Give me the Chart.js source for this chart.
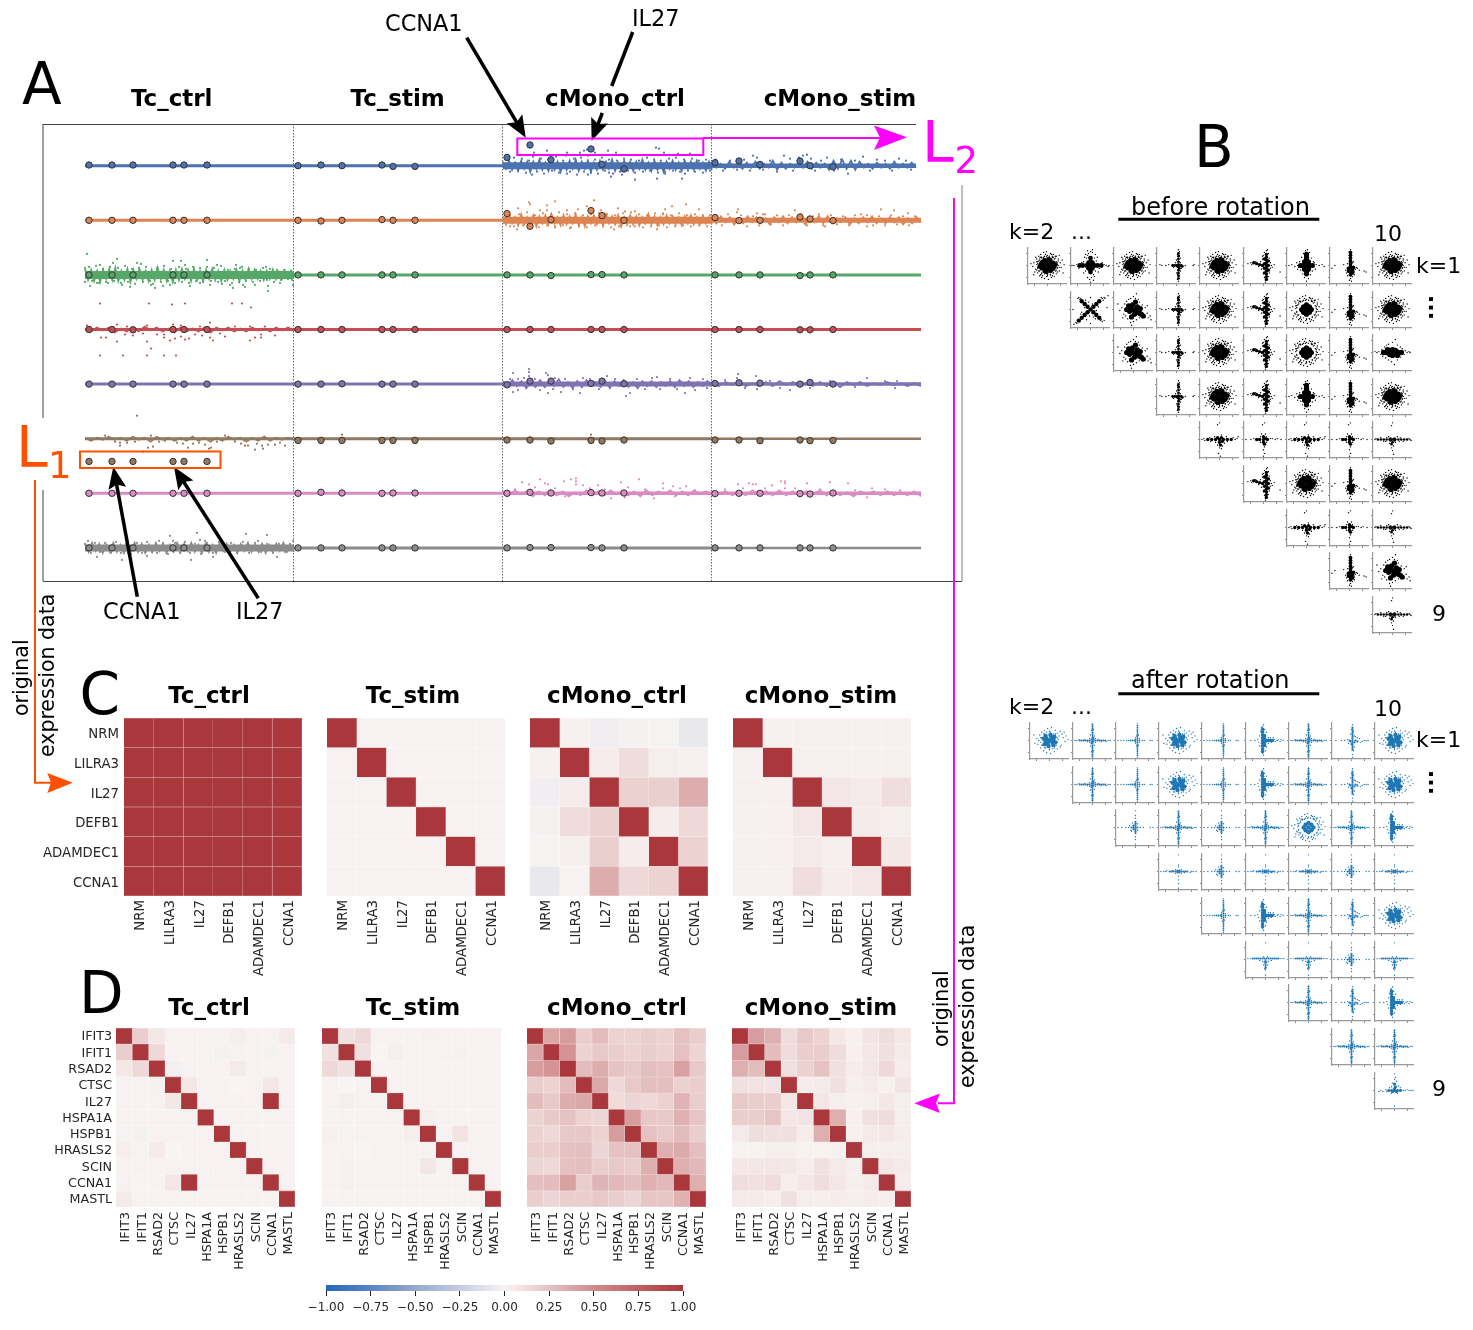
<!DOCTYPE html>
<html>
<head>
<meta charset="utf-8">
<title>Rotation figure</title>
<script src="https://cdn.jsdelivr.net/npm/chart.js@4"></script>
<style>
  body { margin: 0; background: #fff; }
  #page { position: relative; width: 1473px; height: 1330px; overflow: hidden; }
  canvas { position: absolute; }
  svg { position: absolute; left: 0; top: 0; font-family: "DejaVu Sans"; }
</style>
</head>
<body>
<div id="page"></div>
<script>
// ---- panel A data: position along the cells, deviation from the row baseline
const cellGroups = ['Tc_ctrl', 'Tc_stim', 'cMono_ctrl', 'cMono_stim'];
const groupStart = [0, 209, 418, 627];
const groupEnd = [209, 418, 627, 836];
const geneX = [4, 27, 48, 88, 99, 122, 213, 236, 257, 297, 308, 330, 422, 445, 466, 506, 517, 539, 630, 654, 675, 715, 725, 748];

const row0Genes = [-0.7, -0.7, -0.7, -0.7, -0.7, -0.7, 0, -0.7, 0, -0.7, 0.7, 0.7, -8.3, -20.7, -6, -16.7, -1.4, 3.3, -3, -4.7, -1.3, -4.7, 0, 1];
const row1Genes = [0, 0, 0, 0, 0, 0, 0, 0.7, 0, -0.7, 0, 0, -6.7, 6, -0.7, -9.7, -4.7, 0, -2.7, 0.3, 0, -3.3, -1.3, 0.3];
const row2Genes = [0, 0, 0, 0, 0, 0, 0, 0, 0, 0, 0, 0, 0, 0, 0.7, -0.3, -0.3, 0, 0, 0, 0, 0.7, 0, 0];
const row3Genes = [0, 0, 0.3, 0, 0, 0, 0, 0, 0, 0, 0, 0, 0, 0, 0, 0, 0, 0, 0, 0, 0, 0.3, 0.3, 0];
const row4Genes = [0, 0, 0, 0, 0, 0, 0, 0, -0.3, 0, 0, 0, 0.7, -3, -3, -0.7, -3, -0.3, -0.7, -1.3, -1, 0, -1.7, 0];
const row5Genes = [22.7, 22.7, 22.7, 22.7, 22.7, 22.7, 1.7, 1.7, 1.7, 1.7, 1.7, 1.7, 1.3, 1.3, 2.3, 1.7, 2.3, 1.3, 1.3, 1.3, 2, 1.3, 2, 1.7];
const row6Genes = [0, 0, 0, 0, 0, 0, 0, -1, -0.3, 0, -0.3, -0.3, 0, -1, -0.3, -0.7, -0.3, -0.3, 0.3, 0, 0, 0.3, 0.7, -0.3];
const row7Genes = [0, 0, 0, 0, 0, 0, 0, 0, 0, 0, 0, 0, 0, -0.3, -0.3, -0.3, 0, 0, 0, 0, 0, 0, 0, 0];

const row0Cells = [
  [449,-13],[462,-15],[482,-13],[495,-13],[499,-15],[502,-16],[510,-13],[523,-15],[531,-13],[571,-18],[574,-17],[579,-13],[593,-12],[605,-12],
  [447,9],[482,8],[503,9],[524,7],[526,11],[550,14],[572,13],[580,8],[597,13],[600,8],[537,9],
  [421,-6],[425,6],[429,-8],[433,5],[437,-7],[441,7],[444,-5],[448,-9],[452,6],[456,-7],[459,8],[463,-6],[467,5],[471,-9],[474,7],[478,-5],
  [481,-10],[485,6],[489,-7],[492,9],[496,-8],[499,6],[503,-10],[506,7],[510,-6],[513,8],[517,-8],[520,5],[524,-6],[528,8],[532,-5],[535,6],
  [539,-7],[543,5],[546,-6],[550,7],[554,-5],[558,6],[562,-8],[565,5],[569,-6],[573,7],[576,-5],[580,6],[584,-7],[588,5],[591,-8],[595,6],
  [599,-6],[603,5],[607,-7],[610,6],[614,-5],[618,7],[621,-6],[625,5],
  [631,-6],[638,5],[645,-5],[652,4],[659,-6],[665,5],[668,-10],[672,-8],[678,4],[685,-5],[692,6],[699,-10],[705,-7],[708,5],[714,-8],[718,-10],
  [722,-11],[726,-7],[730,5],[736,-5],[742,-8],[749,5],[756,-6],[763,8],[770,-5],[778,-9],[785,5],[792,-6],[800,-5],[807,5],[814,-7],[821,-5],[826,4]
];
const row1Cells = [
  [444,-18],[445,-16],[433,-12],[455,-10],[462,-15],[470,-19],[462,-10],[482,-10],[493,-11],[502,-14],[509,-20],[516,-10],[533,-12],[540,-9],[550,-9],
  [580,-11],[587,-14],[601,-16],[614,-11],[578,-7],[529,9],[572,9],[545,6],[485,8],[445,7],[470,7],[425,6],[432,9],
  [421,-7],[425,-5],[429,6],[434,-6],[438,5],[442,-8],[446,6],[450,-5],[454,7],[458,-7],[462,5],[466,-6],[470,6],[474,-8],[478,5],[482,-6],[486,7],
  [490,-7],[494,6],[498,-5],[502,7],[506,-6],[510,5],[514,-7],[518,6],[522,-6],[526,7],[530,-5],[534,6],[538,-7],[542,5],[546,-8],[550,6],[554,-6],
  [558,7],[562,-5],[566,6],[570,-7],[574,5],[578,-6],[582,7],[586,-5],[590,6],[594,-7],[598,5],[602,-5],[606,6],[610,-6],[614,5],[618,-5],[622,6],[625,-5],
  [653,-11],[672,-7],[678,-6],[710,-10],[796,-11],[809,-10],[823,-7],[782,6],[738,5],[652,-8],
  [631,-5],[637,5],[643,-6],[649,4],[656,-5],[662,6],[668,-4],[674,5],[680,-6],[686,4],[692,-5],[698,5],[704,-5],[716,-6],[722,5],[728,-4],[734,-6],[740,6],
  [746,-5],[752,4],[758,-4],[764,5],[770,-5],[776,-6],[782,-5],[788,5],[794,-4],[800,5],[806,-5],[812,4],[818,-4],[824,5],[830,-4]
];
const row2Cells = [
  [2,-21],[32,-16],[28,-12],[15,-10],[5,11],[52,-12],[88,-14],[96,-14],[122,-15],[132,-10],[151,-10],[155,-7],[181,-8],[183,16],[183,11],[148,13],[158,10],
  [70,13],[66,10],[85,10],[115,8],[37,10],[23,8],[12,8],[208,10],[145,10],[0,-7],[0,7],[4,-8],[7,6],[11,-9],[14,8],[18,-6],[21,7],[25,-8],[29,6],[33,-7],
  [36,8],[40,-9],[43,7],[47,-6],[50,9],[54,-7],[58,7],[61,-8],[65,6],[68,9],[72,-7],[76,7],[79,-9],[83,6],[86,-6],[90,8],[94,-8],[97,7],[101,-6],[104,8],
  [108,-8],[111,6],[115,-7],[118,7],[122,-8],[126,6],[129,-7],[133,7],[136,-9],[140,6],[143,-5],[147,8],[150,-6],[154,7],[157,-8],[161,6],[164,-6],[168,7],
  [171,-5],[175,6],[178,-7],[182,5],[185,-6],[189,7],[192,-5],[196,5],[199,-5],[203,4],[206,-4],[207,5],[105,11],[125,10],[160,12],[45,12],[56,-11],[100,-10],
  [78,11],[137,9],[170,10],[195,8]
];
const row3Cells = [
  [15,-26],[64,-26],[87,-25],[100,-26],[147,-26],[157,-26],[166,-22],[2,-4],[125,-7],[16,8],[21,8],[32,12],[62,12],[66,19],[15,26],[38,26],[62,26],[79,26],[91,26],
  [79,5],[79,8],[85,11],[90,9],[96,7],[100,10],[104,9],[117,6],[125,8],[128,11],[140,7],[170,8],[176,5],[190,6],[40,5],[48,6],[58,4],[72,5],[110,5],[135,4],
  [88,-5],[62,-4],[42,-3],[32,-5],[150,-3],[115,-3],[96,-4],[165,-3],[180,-3],[176,8],[165,11]
];
const row4Cells = [
  [428,-11],[444,-15],[444,-12],[444,-8],[439,-6],[461,-11],[463,-9],[470,-6],[522,-8],[498,-6],[567,-6],[572,-7],[605,-6],[428,8],[433,6],[463,9],[476,8],
  [495,9],[541,12],[545,9],[575,5],[600,9],[610,6],[425,-5],[433,-5],[450,-5],[455,6],[468,5],[480,-5],[488,5],[505,-5],[514,5],[530,-5],[552,-5],[560,5],
  [585,-5],[592,5],[618,-5],[622,4],[653,-10],[652,-6],[671,-8],[672,5],[705,6],[782,-6],[812,-3],[810,4],[640,-4],[660,4],[685,-3],[695,4],[725,4],[745,-3],[770,3],[800,-3]
];
const row5Cells = [
  [35,7],[35,4],[58,13],[63,9],[68,8],[103,9],[124,10],[126,9],[160,7],[170,11],[177,7],[178,10],[183,6],[190,6],[200,7],[163,7],[52,-23],
  [30,3],[42,4],[50,3],[74,3],[92,4],[98,5],[108,5],[114,4],[120,6],[132,3],[150,3],[156,5],[172,5],[195,4],[80,2],[20,-3],[66,-3],[140,-3],[257,-4],[506,-4]
];
const row6Cells = [
  [437,-11],[444,-9],[455,-14],[460,-10],[463,-9],[479,-12],[486,-14],[491,-15],[491,-12],[491,-9],[498,-8],[513,-8],[536,-11],[543,-6],[554,-14],[578,-10],
  [578,-5],[588,-7],[601,-7],[526,5],[569,5],[430,-4],[450,-6],[470,-5],[505,-5],[520,-4],[560,-4],[595,-5],[610,-3],[480,3],[540,4],[590,3],
  [653,-9],[664,-10],[668,-9],[671,-9],[687,-8],[696,-12],[700,-12],[700,-10],[700,-5],[722,-10],[745,-11],[763,-10],[787,-5],[782,4],[640,-4],[658,-5],[680,-5],[710,-5],[735,-4],[770,-3],[800,-4],[815,-3]
];
const row7Cells = [
  [85,-12],[112,-15],[161,-14],[182,-13],[3,-7],[115,-8],[12,9],[37,12],[62,8],[106,12],[128,9],[192,9],[43,5],[88,-7],[74,-7],[120,-7],[173,-7],[208,-7],
  [0,-4],[6,5],[10,-5],[15,4],[20,-5],[26,5],[31,-6],[36,5],[41,-4],[46,6],[52,-5],[57,5],[62,-6],[67,4],[72,5],[78,-5],[83,6],[90,-5],[95,5],[100,-6],[105,5],
  [110,-4],[116,6],[122,-5],[128,5],[134,-6],[140,4],[146,-5],[152,5],[158,-6],[164,5],[170,-5],[176,4],[182,-4],[188,5],[194,-4],[200,4],[205,-4]
];
const rowCells = [row0Cells, row1Cells, row2Cells, row3Cells, row4Cells, row5Cells, row6Cells, row7Cells];
const rowGenes = [row0Genes, row1Genes, row2Genes, row3Genes, row4Genes, row5Genes, row6Genes, row7Genes];

// rough band outlines, read along each noisy stretch
const roughBlueCtrl = [-4,3,-5,4,-3,5,-5,3,-4,6,-4,3,-6,4,-3,5,-5,4,-4,6,-3,4,-5,3,-6,5,-4,3,-5,6,-3,4,-5,4,-4,3,-6,5,-3,4,-5,3,-4,5,-4,3,-6,4,-3,5,-5,4,-3,6,-4,3,-5,4,-3,5,-5,3,-4,4,-5,3,-3,5,-4,4];
const roughBlueStim = [-3,2,-2,3,-4,2,-2,3,-3,2,-4,3,-2,2,-5,4,-3,3,-2,2,-3,2,-4,3,-3,2,-2,4,-5,3,-6,3,-5,4,-4,2,-2,3,-3,2,-2,3,-4,2,-2,2,-3,2];
const roughOrangeCtrl = [-4,4,-5,3,-3,5,-6,4,-3,3,-5,6,-4,3,-5,4,-6,3,-3,5,-5,4,-4,3,-6,5,-3,6,-4,3,-5,4,-3,5,-6,3,-4,4,-5,6,-3,3,-5,4,-4,5,-3,3,-6,4,-4,5,-3,4,-5,3,-4,4,-3,5,-4,3,-5,4,-3,4,-4,3,-3,4];
const roughOrangeStim = [-3,3,-4,2,-3,4,-2,3,-4,2,-3,3,-2,4,-3,2,-4,3,-3,2,-2,4,-3,2,-4,3,-4,3,-2,2,-3,4,-2,3,-3,2,-4,3,-2,3,-3,2,-3,4,-2,3,-3,2];
const roughGreenTc = [-6,5,-5,6,-4,7,-5,4,-6,5,-7,6,-4,5,-6,7,-5,4,-6,5,-4,6,-5,5,-7,4,-5,6,-4,7,-5,5,-6,4,-5,6,-6,5,-4,6,-5,4,-6,5,-4,6,-5,5,-4,4,-5,6,-4,5,-6,4,-5,4,-4,5,-4,4,-5,4,-3,4,-4,3,-4,3];
const roughPurpleCtrl = [-3,3,-4,2,-3,4,-2,3,-4,3,-3,2,-5,3,-2,4,-3,3,-4,2,-2,3,-3,4,-3,2,-4,3,-2,4,-3,2,-3,3,-2,2,-3,3,-4,2,-3,3,-2,2,-3,2];
const roughPurpleStim = [-2,2,-2,1,-3,2,-1,2,-2,2,-3,1,-2,2,-1,2,-2,2,-2,3,-2,1,-2,2,-1,1,-2,1,-1,2,-1,2];
const roughPinkCtrl = [-2,2,-3,1,-2,3,-2,2,-3,2,-2,3,-1,2,-3,2,-2,2,-3,1,-2,2,-2,3,-3,2,-2,1,-3,2,-2,2,-3,1,-2,2];
const roughPinkStim = [-2,1,-2,2,-1,2,-3,1,-2,2,-3,2,-2,3,-2,1,-3,2,-2,2,-1,3,-2,1,-2,2,-2,2,-1,2,-2,3];
const roughGrayTc = [-4,4,-5,3,-4,5,-3,4,-5,4,-3,5,-4,3,-5,4,-4,5,-3,4,-5,3,-4,5,-3,4,-5,4,-4,3,-5,4,-3,5,-4,4,-3,5,-5,3,-4,4,-3,5,-4,3,-5,4,-3,4,-4,5,-3,4,-4,3,-5,4,-3,4];
const roughRedTc = [-1,2,-2,1,-2,3,-1,2,-2,2,-3,1,-2,2,-1,3,-2,2,-1,2,-2,3,-2,1,-2,2,-1,2,-2,1,-1,2,-2,1,-2,1];
const roughBrownTc = [-1,2,-1,1,-2,1,-1,2,-2,1,-1,3,-2,1,-1,2,-1,2,-2,2,-1,3,-1,2,-2,1,-1,3,-1,2,-2,2,-1,1,-1,1];

// row, group, outline
const roughBands = [
  [0, 2, roughBlueCtrl], [0, 3, roughBlueStim], [1, 2, roughOrangeCtrl], [1, 3, roughOrangeStim],
  [2, 0, roughGreenTc], [3, 0, roughRedTc], [4, 2, roughPurpleCtrl], [4, 3, roughPurpleStim],
  [5, 0, roughBrownTc], [6, 2, roughPinkCtrl], [6, 3, roughPinkStim], [7, 0, roughGrayTc]
];

// ---- panels C and D data
const genesC = ['NRM', 'LILRA3', 'IL27', 'DEFB1', 'ADAMDEC1', 'CCNA1'];
const corrC_TcCtrl = [
  [1,1,1,1,1,1],[1,1,1,1,1,1],[1,1,1,1,1,1],[1,1,1,1,1,1],[1,1,1,1,1,1],[1,1,1,1,1,1]
];
const corrC_TcStim = [
  [1,.01,.01,.01,.01,.01],[.01,1,.01,.01,.01,.01],[.01,.01,1,.01,.01,.01],
  [.01,.01,.01,1,.01,.01],[.01,.01,.01,.01,1,.01],[.01,.01,.01,.01,.01,1]
];
const corrC_MonoCtrl = [
  [1,.02,-.04,-.02,-.01,-.08],[.02,1,.04,.12,.03,.02],[-.04,.04,1,.18,.19,.35],
  [-.02,.12,.18,1,.04,.14],[-.01,.03,.19,.04,1,.17],[-.08,.01,.35,.14,.17,1]
];
const corrC_MonoStim = [
  [1,.02,.02,.02,.02,.02],[.02,1,.02,.02,.02,.02],[.02,.02,1,.07,.05,.11],
  [.02,.02,.07,1,.05,.03],[.02,.02,.05,.03,1,.06],[.02,.02,.11,.04,.07,1]
];
const genesD = ['IFIT3', 'IFIT1', 'RSAD2', 'CTSC', 'IL27', 'HSPA1A', 'HSPB1', 'HRASLS2', 'SCIN', 'CCNA1', 'MASTL'];
const corrD_TcCtrl = [
  [1,.2,.06,.01,.01,.015,-.01,.03,.01,.01,.05],
  [.2,1,.14,.01,.01,.01,-.02,-.01,.01,-.02,.01],
  [.06,.14,1,-.03,.01,.01,.01,.05,.01,.01,.01],
  [.01,.01,-.02,1,.06,.01,.01,0,.01,.07,.01],
  [.01,.01,.01,.06,1,.01,.01,.01,.01,1,.01],
  [.015,.01,.01,.01,.01,1,.01,.01,.01,.01,.01],
  [-.01,-.02,.01,.01,.01,.01,1,.01,.01,.01,.01],
  [.03,-.01,.05,0,.01,.01,.01,1,.01,.01,.01],
  [.015,.01,.01,.01,.01,.01,.01,.01,1,.01,.01],
  [.01,.005,.01,.07,1,.01,.01,.01,.01,1,.01],
  [.05,.01,.01,.01,.01,.01,.01,.01,.01,.01,1]
];
const corrD_TcStim = [
  [1,.1,.14,.01,.01,-.01,.02,.01,.01,.01,.01],
  [.1,1,.1,0,.03,.01,-.01,.01,.02,.01,.01],
  [.14,.1,1,.01,.01,.01,.01,-.005,.01,.01,.01],
  [.01,0,.01,1,.01,.01,.01,.01,.01,.01,.01],
  [.01,.03,.01,.01,1,.01,.01,.01,.01,.01,.01],
  [-.01,.01,.01,.01,.01,1,.03,.01,.01,.01,.01],
  [.02,-.01,.01,.01,.01,.03,1,.01,.09,.01,.01],
  [.01,.015,0,.01,.01,.01,.01,1,.01,.01,.01],
  [.01,.02,.01,.01,.01,.01,.07,.01,1,.01,.01],
  [.01,.02,.01,.01,.01,.01,.01,.01,.01,1,.01],
  [.01,.01,.01,.01,.01,.01,.01,.01,.01,.01,1]
];
const corrD_MonoCtrl = [
  [1,.38,.42,.2,.28,.17,.17,.2,.17,.26,.2],
  [.38,1,.46,.17,.22,.2,.17,.2,.17,.26,.16],
  [.42,.46,1,.28,.35,.25,.22,.27,.26,.4,.22],
  [.2,.17,.28,1,.37,.14,.22,.27,.27,.18,.2],
  [.28,.22,.35,.37,1,.13,.16,.14,.18,.32,.2],
  [.17,.22,.25,.17,.15,1,.42,.23,.22,.33,.24],
  [.17,.14,.22,.23,.17,.42,1,.26,.22,.28,.2],
  [.2,.2,.26,.27,.16,.25,.26,1,.34,.36,.27],
  [.16,.14,.26,.27,.2,.22,.2,.34,1,.34,.3],
  [.27,.28,.4,.2,.32,.3,.27,.33,.3,1,.34],
  [.2,.16,.2,.2,.22,.2,.16,.24,.24,.33,1]
];
const corrD_MonoStim = [
  [1,.42,.34,.12,.22,.17,.06,.02,.08,.12,.06],
  [.42,1,.28,.12,.2,.2,.12,.02,.07,.1,.05],
  [.34,.28,1,.1,.18,.25,.1,.04,.07,.14,.04],
  [.1,.09,.08,1,.04,.05,.1,.03,.05,.02,.08],
  [.22,.2,.2,.06,1,.07,.03,.02,.03,.06,.03],
  [.2,.2,.24,.07,.08,1,.34,.02,.1,.12,.03],
  [.05,.11,.1,.1,.04,.34,1,.02,.05,.07,.04],
  [.01,.01,.03,.03,.015,.015,.02,1,.03,.03,.03],
  [.06,.07,.07,.06,.03,.1,.05,.03,1,.07,.05],
  [.11,.1,.13,.03,.07,.11,.07,.03,.05,1,.04],
  [.05,.05,.03,.1,.03,.03,.04,.03,.04,.03,1]
];

// ---- panel B data: point clouds, x right and y up
const blobCore = [[0,0],[-4,0],[4,0],[0,4],[0,-4],[-3,3],[3,3],[-3,-3],[3,-3],[-7,1],[7,-1],[1,7],[-1,-7],[-6,-3],[6,3],[-5,4],[5,-4],[-3,6],[3,-6],[6,-3],[-6,3],[3,6],[-3,-6],[-8,-1],[8,1]];
const blobDots = [[-14,3],[-12,-4],[-11,7],[-10,-8],[-9,10],[-8,-11],[-7,12],[-6,-13],[-4,14],[-3,-14],[-1,15],[1,-15],[3,13],[4,-13],[6,12],[7,-12],[9,10],[9,-9],[11,7],[12,-6],[13,3],[14,-2],[15,6],[-15,-1],[-13,-7],[-12,9],[-8,8],[-9,-6],[8,8],[9,-5],[-10,4],[10,3],[-10,-3],[10,-2],[-6,9],[6,9],[-6,-9],[6,-8],[-3,10],[3,-10],[0,11],[0,-11],[-11,1],[11,0],[-5,-11],[5,10],[12,11],[-14,-10],[16,-8],[-17,2],[17,1],[-10,2],[-9,5],[-8,6],[-6,8],[-4,9],[-1,10],[2,10],[5,9],[7,7],[9,4],[10,1],[10,-3],[8,-6],[6,-8],[3,-10],[0,-10],[-3,-9],[-6,-8],[-8,-6],[-10,-2],[-11,4],[-7,9],[-2,12],[4,12],[8,10],[11,5],[12,-2],[10,-7],[5,-11],[-1,-12],[-7,-10],[-11,-5]];
const roundCore = [[0,0],[-3,3],[3,-3],[3,3],[-3,-3],[-5,0],[5,0],[0,5],[0,-5]];
const wideCore = [[-6,0],[-3,1],[0,0],[3,-1],[6,0],[0,3],[0,-3],[-3,-2],[3,2],[-9,0],[9,0],[-5,3],[5,-3]];
const wideDots = [[-16,0],[-14,1],[-12,-2],[-11,3],[-10,-4],[12,-2],[13,2],[15,0],[17,1],[-8,6],[-6,8],[-4,9],[0,11],[3,14],[5,8],[8,6],[-7,-6],[-4,-8],[-1,-10],[2,-13],[5,-8],[8,-5],[10,4],[-18,1],[18,0]];
const crossCore = [[0,0],[0,4],[0,-4],[0,8],[0,-7],[-4,0],[4,0],[-8,0],[7,0],[2,3],[-2,-3],[2,-3],[-2,3],[-11,0],[11,0]];
const crossDots = [[-17,0],[-14,1],[-13,-1],[14,1],[16,0],[18,-1],[12,3],[-12,-3],[-9,3],[9,-3],[-7,4],[6,5],[-5,-6],[5,-6],[-4,8],[4,8],[-3,11],[3,-10],[-2,13],[2,14],[0,15],[1,-13],[-1,-15],[2,17],[-3,16],[0,-18],[3,-16],[-6,9],[7,9],[-7,-8],[8,-7],[5,12],[-5,12],[-3,-13],[4,-12],[19,0],[-19,0]];
const spikeCore = [[2,-14],[2,-11],[2,-8],[2,-5],[2,-2],[2,1],[2,4],[2,7],[2,10],[2,13],[3,-3],[3,0],[1,-1],[0,0],[-2,0],[-4,0],[5,0],[6,-1]];
const spikeDots = [[-15,0],[-17,1],[-11,0],[-8,1],[9,0],[17,0],[18,1],[2,17],[2,-17],[1,-15],[3,15],[4,8],[0,6],[4,-6],[0,-8],[4,3],[-1,3],[5,-3],[-3,-2],[3,11],[1,12],[3,-11],[1,-10]];
const columnCore = [[3,-15],[3,-12],[3,-9],[3,-6],[3,-3],[3,0],[3,3],[3,6],[3,9],[3,12],[1,-8],[1,-3],[1,2],[1,7],[5,-5],[5,0],[5,5],[-1,0],[-4,1],[-7,2],[-10,3]];
const columnDots = [[-13,3],[-16,2],[-12,1],[-8,4],[-5,-1],[-3,4],[-2,-4],[-1,7],[0,-9],[0,11],[1,14],[2,-16],[3,16],[4,17],[2,-18],[6,8],[7,3],[7,-3],[6,-8],[8,0],[9,-2],[11,1],[17,-7],[5,13],[5,-12],[1,-13],[-1,10]];
const vstarCore = [[0,0],[0,3],[0,-3],[0,6],[0,-6],[0,9],[0,-9],[-3,0],[3,0],[-6,0],[6,0],[-2,4],[2,4],[-2,-4],[2,-4],[0,12]];
const vstarDots = [[-9,0],[-12,-1],[-15,1],[-18,0],[10,1],[13,0],[16,1],[18,-1],[-7,4],[7,4],[-6,-5],[6,-6],[-5,9],[5,8],[-4,-9],[4,-10],[-3,13],[3,14],[-1,16],[1,17],[-2,-13],[2,-14],[0,-17],[-9,-4],[9,-4],[-8,-2],[8,3],[-10,3]];
const dropCore = [[1,-10],[1,-7],[2,-4],[1,-1],[1,2],[1,5],[1,8],[1,11],[3,-8],[3,-5],[-1,-6],[-1,-3],[4,-2],[1,14]];
const dropDots = [[1,17],[0,15],[2,13],[2,9],[0,8],[-2,2],[3,3],[4,4],[-3,-8],[-4,-5],[5,-7],[6,-4],[7,-2],[8,-3],[10,-5],[5,-10],[-2,-11],[3,-12],[1,-14],[0,-16],[2,-17],[-15,0],[-18,-3],[15,-6],[17,-7],[-6,1]];
const xCore = [[0,0],[-3,-3],[3,3],[-6,-6],[6,6],[-9,-9],[9,9],[-3,3],[3,-3],[-6,6],[6,-6],[-9,9],[9,-9],[-12,-12]];
const xDots = [[-15,-14],[-14,-15],[-13,-11],[-11,-13],[-17,-16],[12,12],[14,13],[15,12],[18,15],[13,10],[11,13],[-11,11],[-12,13],[-10,12],[-13,12],[11,-11],[12,-13],[10,-12],[14,-12],[-6,2],[6,-1],[2,6],[-1,-7],[-2,8],[3,-8],[-9,-3],[8,3],[-5,10],[5,-10],[-10,-5],[-4,-11],[0,13],[0,-15],[17,2],[-18,0]];
const starCore = [[0,0],[-3,2],[3,-2],[-5,4],[-4,-2],[4,3],[1,-5],[-1,5],[6,-4],[8,-5],[-7,0],[7,1],[10,-7],[2,8],[-2,-8]];
const starDots = [[-12,2],[-14,-1],[-10,-5],[-9,6],[-7,9],[-3,12],[0,14],[3,17],[2,12],[6,8],[9,5],[12,2],[14,-4],[12,-8],[15,-9],[17,-7],[18,-11],[9,-9],[6,-9],[3,-11],[0,-13],[-3,-14],[-2,-17],[-6,-10],[-8,-7],[-11,-9],[5,11],[-5,11],[14,4],[-16,6]];
const horizCore = [[-12,0],[-8,0],[-4,0],[0,0],[4,0],[8,0],[12,0],[0,-3],[-2,2],[2,2],[3,-2],[1,-6]];
const horizDots = [[-18,0],[-16,1],[-15,-1],[16,0],[18,1],[19,3],[14,2],[-10,2],[-9,-2],[7,3],[8,-2],[-5,3],[-4,-3],[5,-4],[0,-9],[2,-10],[-1,-15],[1,-18],[-2,16],[0,18],[3,-7],[-2,-6],[2,5]];
const smallCore = [[0,0],[0,3],[0,-3],[-4,0],[-7,0],[2,1],[1,-5],[4,0]];
const smallDots = [[-13,0],[-18,0],[18,0],[14,1],[12,0],[9,1],[7,1],[-10,1],[1,-8],[0,-11],[1,-15],[0,-18],[-1,16],[1,18],[-3,3],[3,3],[-3,-3],[3,-3],[2,6],[-2,6]];
const thinCore = [[-15,0],[-12,0],[-9,0],[-6,0],[-3,0],[0,0],[3,0],[6,0],[9,0],[12,0],[15,0],[-2,1],[2,1],[-2,-1],[2,-1],[0,-3],[-1,-5]];
const thinDots = [[-18,0],[-17,1],[18,0],[19,-1],[17,1],[-12,2],[-9,-2],[-6,2],[-4,3],[5,3],[8,2],[11,-2],[-3,-4],[1,-7],[-1,-9],[0,-12],[1,-16],[-1,15],[0,18],[3,-3],[-7,-2],[7,-2]];

const bBlobCore = [[0,0],[-3,2],[3,-2],[2,3],[-2,-3],[-4,-1],[4,1],[-6,2],[6,-2],[1,6],[-1,-6],[-5,-4],[5,4],[-4,5],[4,-5]];
const bBlobDots = [[-13,2],[-12,-4],[-10,6],[-9,-8],[-8,9],[-6,-11],[-5,11],[-3,-13],[-2,13],[1,-14],[2,14],[5,-12],[6,11],[8,-9],[8,8],[10,5],[12,-5],[13,7],[15,9],[14,3],[17,5],[16,-1],[19,1],[-11,0],[-8,3],[-7,-5],[7,-5],[9,1],[-5,7],[4,7],[-4,-8],[3,-9],[0,10],[0,-10],[11,10],[11,-7],[-15,-3],[-16,6],[-9,-2],[-8,-5],[-6,7],[-3,9],[1,9],[6,7],[8,3],[8,-2],[5,-8],[0,-9],[-5,-8],[-9,3]];
const plusCore = [[0,-17],[0,-15],[0,-13],[0,-11],[0,-9],[0,-7],[0,-5],[0,-3],[0,-1],[0,1],[0,3],[0,5],[0,7],[0,9],[0,11],[0,13],[0,15],[0,17],[-13,0],[-11,0],[-9,0],[-7,0],[-5,0],[-3,0],[3,0],[5,0],[7,0],[9,0],[11,0],[13,0],[-1,1],[1,-1],[1,1],[-1,-1],[1,3],[-1,-3]];
const plusDots = [[-18,0],[-16,0],[-14,1],[14,-1],[16,0],[18,0],[-8,1],[-5,-1],[6,1],[9,-1],[-2,6],[2,5],[-2,-6],[2,-5],[1,12],[-1,11],[1,-11],[-1,-12],[0,18],[0,-18],[3,2],[-3,2],[3,-2],[-3,-2]];
const slimCore = [[2,-16],[2,-14],[2,-12],[2,-10],[2,-8],[2,-6],[2,-4],[2,-2],[2,0],[2,2],[2,4],[2,6],[2,8],[2,10],[2,12],[2,14],[2,16],[-1,0],[-3,0],[-5,0],[0,-1],[0,1],[4,0]];
const slimDots = [[-9,0],[-12,0],[-15,0],[-18,0],[7,0],[9,0],[15,0],[17,0],[2,18],[2,-18],[1,5],[3,6],[1,-6],[3,-5],[0,3],[4,2],[0,-3],[4,-2],[-7,0]];
const fanCore = [[-3,0],[-3,-3],[-3,3],[-3,6],[-3,-6],[-3,9],[-3,-9],[-1,2],[-1,-2],[1,0],[3,0],[5,0],[7,0],[-3,12],[-3,-12],[-1,5],[-1,-5]];
const fanDots = [[-3,15],[-2,17],[-4,14],[-3,-14],[-2,-16],[-6,5],[-7,-2],[-6,-6],[-8,1],[-11,0],[-15,0],[0,6],[1,9],[0,-6],[1,-7],[3,3],[5,3],[3,-3],[6,-2],[9,1],[10,-1],[12,0],[13,1],[15,-1],[16,1],[18,0],[8,3],[-1,12],[-5,10],[0,-11]];
const tailCore = [[1,-10],[1,-8],[1,-6],[1,-4],[1,-2],[1,0],[1,2],[1,4],[1,6],[1,8],[1,10],[1,12],[1,14],[3,-2],[4,0],[-1,-1],[-2,0],[6,-1],[0,-4]];
const tailDots = [[1,17],[1,-15],[1,-18],[0,12],[2,10],[3,5],[4,4],[6,3],[8,2],[9,-2],[11,-1],[13,0],[15,0],[17,0],[-4,1],[-7,0],[-10,0],[-16,0],[-3,-3],[3,-7],[-1,7],[2,-11]];
const littleCore = [[0,0],[0,2],[0,-2],[0,4],[0,-4],[0,6],[0,-6],[-2,0],[2,0],[-2,2],[-2,-2],[-4,0]];
const littleDots = [[0,10],[0,13],[0,18],[0,-10],[0,-13],[0,-18],[-7,0],[-10,0],[-14,0],[-18,0],[5,0],[8,0],[15,0],[18,0],[-3,5],[-4,-4],[2,4],[2,-3],[-6,2],[-5,-3]];
const flatCore = [[-9,0],[-7,0],[-5,0],[-3,0],[-1,0],[1,0],[3,0],[5,0],[7,0],[9,0],[-1,1],[1,-1],[-1,-1],[1,1]];
const flatDots = [[-18,0],[-15,0],[-13,0],[-12,1],[13,0],[15,0],[12,-1],[18,0],[0,18],[0,-18],[0,-13],[0,-9],[0,7],[-3,2],[3,2],[-3,-2],[3,-2],[-6,1],[6,-1],[0,5],[0,-5]];
const hangCore = [[-13,1],[-11,1],[-9,1],[-7,1],[-5,1],[-3,1],[-1,1],[1,1],[3,1],[5,1],[7,1],[9,1],[11,1],[13,1],[0,-1],[0,-3],[0,-5],[0,-7],[0,-9],[-1,-3],[1,-3]];
const hangDots = [[-18,1],[-15,1],[15,1],[17,1],[19,1],[0,-11],[0,-17],[1,-9],[-1,-10],[0,18],[-2,-6],[2,-6],[-3,-2],[3,-2],[-6,-1],[6,-1],[-2,3],[2,3]];
const humpCore = [[-6,0],[-3,0],[0,0],[3,0],[6,0],[0,2],[1,4],[0,7],[-2,-1],[2,-1]];
const humpDots = [[-12,-1],[-14,0],[-16,-1],[9,0],[11,0],[13,1],[15,0],[17,0],[19,0],[-2,8],[2,10],[0,12],[1,14],[0,18],[-3,4],[4,5],[-5,3],[6,3],[7,1],[-9,1],[-8,-1],[-3,-3],[3,-3],[0,-17]];

const beforeGrid = ['bcbsblvdb', 'xtsblrdb', 'tsblrdw', 'sblvdb', 'hmhmH', 'lbdb', 'hmH', 'dt', 'H'];
const afterGrid = ['BpsBsfpdB', 'psBsfpdB', 'mpmpRpf', 'nmnnmn', 'sfpdB', 'TTmT', 'pdf', 'pp', 'a'];

// ---- layout and style
const ROW_STEP = 54.6;
const rowColors = ['#4c72b0', '#dd8452', '#55a868', '#c44e52', '#8172b3', '#937860', '#da8bc3', '#8c8c8c'];
const bandWidths = [
  [3, 3, 7, 4.5], [3, 3, 7, 5], [8, 3, 3, 3], [3, 3, 3, 3],
  [3, 3, 5, 3.5], [3, 3, 3, 2.5], [3, 3, 3.5, 3.5], [7, 3, 3, 2.5]
];
const corrStops = [
  [-1, 35, 105, 189], [-0.75, 92, 132, 196], [-0.5, 150, 169, 204], [-0.25, 197, 205, 224], [0, 248, 244, 243],
  [0.25, 230, 195, 195], [0.5, 208, 139, 140], [0.75, 191, 96, 98], [1, 169, 55, 59]
];
const beforeStyle = {
  b: [blobCore, blobDots, 2.3], c: [crossCore, crossDots, 2.4], s: [spikeCore, spikeDots, 1.4],
  l: [columnCore, columnDots, 1.7], v: [vstarCore, vstarDots, 2.6], d: [dropCore, dropDots, 1.9],
  x: [xCore, xDots, 2.2], t: [starCore, starDots, 2.6], r: [roundCore, blobDots, 2.6], w: [wideCore, wideDots, 2.8],
  h: [horizCore, horizDots, 1.7], m: [smallCore, smallDots, 1.7], H: [thinCore, thinDots, 1.3]
};
const afterStyle = {
  B: [bBlobCore, bBlobDots, 2.2], R: [roundCore, blobDots, 2.2], p: [plusCore, plusDots, 1],
  s: [slimCore, slimDots, 0.9], f: [fanCore, fanDots, 1.8], d: [tailCore, tailDots, 1.1],
  m: [littleCore, littleDots, 1.1], n: [flatCore, flatDots, 1.1], T: [hangCore, hangDots, 1],
  a: [humpCore, humpDots, 1.6]
};

Chart.defaults.font.family = '"DejaVu Sans"';
const page = document.getElementById('page');

function addCanvas(x, y, w, h) {
  const c = document.createElement('canvas');
  c.width = w;
  c.height = h;
  c.style.left = x + 'px';
  c.style.top = y + 'px';
  page.appendChild(c);
  return c.getContext('2d');
}

function corrColor(v, lighten) {
  let i = 0;
  while (i < corrStops.length - 2 && v > corrStops[i + 1][0]) i++;
  const a = corrStops[i], b = corrStops[i + 1];
  const t = (v - a[0]) / (b[0] - a[0]);
  const mix = k => {
    const c = a[k] + (b[k] - a[k]) * t;
    return Math.round(c + (255 - c) * (lighten || 0));
  };
  return 'rgb(' + mix(1) + ',' + mix(2) + ',' + mix(3) + ')';
}

const quiet = { legend: { display: false }, tooltip: { enabled: false } };

// panel A
function drawTracks() {
  const datasets = [];
  rowColors.forEach((color, r) => {
    const base = r * ROW_STEP;
    datasets.push({
      data: geneX.map((x, i) => ({ x: x, y: base + rowGenes[r][i] })),
      backgroundColor: color, borderColor: '#333', borderWidth: 1, pointRadius: 3.2, order: 0
    });
    datasets.push({
      data: rowCells[r].map(p => ({ x: p[0], y: base + p[1] })),
      backgroundColor: color, borderWidth: 0, pointRadius: 1.1, order: 1
    });
    cellGroups.forEach((g, k) => {
      const end = r === 0 && k === 3 ? 831 : groupEnd[k];
      datasets.push({
        data: [{ x: groupStart[k], y: base }, { x: end, y: base }],
        showLine: true, borderColor: color, borderWidth: bandWidths[r][k], pointRadius: 0, order: 2
      });
    });
  });
  roughBands.forEach(b => {
    const r = b[0], k = b[1], devs = b[2];
    const end = r === 0 && k === 3 ? 831 : groupEnd[k];
    const step = (end - groupStart[k]) / (devs.length - 1);
    datasets.push({
      data: devs.map((d, i) => ({ x: groupStart[k] + i * step, y: r * ROW_STEP + d })),
      showLine: true, tension: 0, borderColor: rowColors[r], borderWidth: 1.8, pointRadius: 0, order: 2
    });
  });
  [208.5, 417.5, 626.5].forEach(x => {
    datasets.push({
      data: [{ x: x, y: -41.7 }, { x: x, y: 415.3 }],
      showLine: true, borderColor: '#555', borderWidth: 0.9, borderDash: [1.5, 1.5], pointRadius: 0, order: 3
    });
  });
  new Chart(addCanvas(43, 124, 919, 457), {
    type: 'scatter',
    data: { datasets },
    options: {
      responsive: false,
      animation: false,
      plugins: quiet,
      layout: { autoPadding: false },
      scales: {
        x: { display: false, type: 'linear', min: -42, max: 877 },
        y: { display: false, type: 'linear', min: -41.7, max: 415.3, reverse: true }
      }
    }
  });
}

// panels C and D
function heatmap(matrix, genes, x, y, size, showY, fontSize, yPad, xPad, yShift) {
  const n = genes.length;
  const left = showY ? 100 : 0;
  const bottom = 90;
  const font = { size: fontSize };
  const datasets = genes.map((g, j) => ({
    label: g,
    data: genes.map(() => 1),
    backgroundColor: matrix.map(row => corrColor(row[j])),
    borderColor: matrix.map(row => corrColor(row[j], 0.2)),
    borderWidth: 0.6,
    inflateAmount: 0.2
  }));
  new Chart(addCanvas(x - left, y, size + left, size + bottom), {
    type: 'bar',
    data: { labels: genes, datasets },
    options: {
      indexAxis: 'y',
      responsive: false,
      animation: false,
      plugins: quiet,
      layout: { autoPadding: false },
      datasets: { bar: { barPercentage: 1, categoryPercentage: 1 } },
      scales: {
        x: {
          type: 'linear', stacked: true, min: 0, max: n,
          grid: { display: false, drawTicks: false }, border: { display: false },
          afterBuildTicks: s => { s.ticks = genes.map((g, i) => ({ value: i + 0.5 })); },
          ticks: { autoSkip: false, minRotation: 90, maxRotation: 90, padding: xPad, labelOffset: 2, font, color: '#262626', callback: (v, i) => genes[i] },
          afterFit: s => { s.height = bottom; s.paddingLeft = 0; s.paddingRight = 0; }
        },
        y: {
          stacked: true,
          grid: { display: false, drawTicks: false }, border: { display: false },
          ticks: { display: showY, autoSkip: false, padding: yPad, labelOffset: yShift, font, color: '#262626' },
          afterFit: s => { s.width = left; s.paddingTop = 0; s.paddingBottom = 0; }
        }
      }
    }
  });
}

function colorbar() {
  new Chart(addCanvas(296, 1285, 417, 38), {
    type: 'bar',
    data: {
      labels: ['r'],
      datasets: [{
        data: [[-1, 1]],
        barPercentage: 1,
        categoryPercentage: 1,
        backgroundColor: c => {
          const area = c.chart.chartArea;
          if (!area) return '#f8f4f3';
          const g = c.chart.ctx.createLinearGradient(area.left, 0, area.right, 0);
          corrStops.forEach(s => g.addColorStop((s[0] + 1) / 2, 'rgb(' + s[1] + ',' + s[2] + ',' + s[3] + ')'));
          return g;
        }
      }]
    },
    options: {
      indexAxis: 'y',
      responsive: false,
      animation: false,
      plugins: quiet,
      layout: { padding: { left: 30, right: 30 }, autoPadding: false },
      scales: {
        x: {
          type: 'linear', min: -1, max: 1,
          grid: { drawOnChartArea: false, tickLength: 5, color: '#262626' },
          border: { display: false },
          ticks: {
            stepSize: 0.25, autoSkip: false, maxRotation: 0, padding: 5,
            font: { size: 12 }, color: '#262626',
            callback: v => v.toFixed(2).replace('-', '\u2212')
          },
          afterFit: s => { s.height = 32; s.paddingLeft = 0; s.paddingRight = 0; }
        },
        y: { display: false }
      }
    }
  });
}

// panel B
function pairPanel(entry, color, x, y, w, h) {
  const axis = {
    type: 'linear', min: -20, max: 20,
    grid: { drawOnChartArea: false, tickLength: 2, color: '#888' },
    border: { color: '#999', width: 1.2 },
    ticks: { display: false },
    afterBuildTicks: s => { s.ticks = [{ value: -13 }, { value: 0 }, { value: 13 }]; }
  };
  const toPoint = p => ({ x: p[0], y: p[1] });
  new Chart(addCanvas(x - 3, y, w + 3, h + 3), {
    type: 'scatter',
    data: {
      datasets: [
        { data: entry[0].map(toPoint), backgroundColor: color, borderWidth: 0, pointRadius: entry[2] },
        { data: entry[1].map(toPoint), backgroundColor: color, borderWidth: 0, pointRadius: 0.7 }
      ]
    },
    options: {
      responsive: false,
      animation: false,
      plugins: quiet,
      layout: { autoPadding: false },
      scales: {
        x: Object.assign({}, axis, { afterFit: s => { s.height = 3; s.paddingLeft = 0; s.paddingRight = 0; } }),
        y: Object.assign({}, axis, { afterFit: s => { s.width = 3; s.paddingTop = 0; s.paddingBottom = 0; } })
      }
    }
  });
}

function pairGrid(grid, styles, color, left, top, w, h, stepX, stepY) {
  grid.forEach((row, r) => {
    row.split('').forEach((key, k) => {
      const col = r + k;
      pairPanel(styles[key], color, left + col * stepX, top + r * stepY, w, h);
    });
  });
}

drawTracks();
heatmap(corrC_TcCtrl, genesC, 124, 718, 178, true, 13.3, 5, 4, 2);
heatmap(corrC_TcStim, genesC, 327, 718, 178, false, 13.3, 5, 4, 2);
heatmap(corrC_MonoCtrl, genesC, 530, 718, 178, false, 13.3, 5, 4, 2);
heatmap(corrC_MonoStim, genesC, 733, 718, 178, false, 13.3, 5, 4, 2);
heatmap(corrD_TcCtrl, genesD, 116, 1028, 179, true, 12.7, 4, 5, 1);
heatmap(corrD_TcStim, genesD, 322, 1028, 179, false, 12.7, 4, 5, 1);
heatmap(corrD_MonoCtrl, genesD, 527, 1028, 179, false, 12.7, 4, 5, 1);
heatmap(corrD_MonoStim, genesD, 732, 1028, 179, false, 12.7, 4, 5, 1);
colorbar();
pairGrid(beforeGrid, beforeStyle, '#000', 1028, 247, 39, 37, 43.1, 43.6);
pairGrid(afterGrid, afterStyle, '#1f77b4', 1030, 722, 39, 37, 43.1, 43.7);
</script>
<svg id="notes" width="1473" height="1330" xmlns="http://www.w3.org/2000/svg">
  <defs>
    <marker id="head" markerUnits="userSpaceOnUse" markerWidth="26" markerHeight="20" refX="16" refY="9" orient="auto">
      <path d="M0 0L22 9L0 18L4 9Z" fill="#000"/>
    </marker>
  </defs>
  <!-- panel A frame -->
  <path d="M43 124V418M43 490V581" stroke="#808080" stroke-width="1.5" fill="none"/>
  <path d="M43 124.5H916M43 581.5H962" stroke="#444" stroke-width="1" fill="none"/>
  <path d="M962 185V581" stroke="#999" stroke-width="1.3" fill="none"/>

  <g font-size="58">
    <text x="22" y="104">A</text>
    <text x="1194" y="167">B</text>
    <text x="79.5" y="714">C</text>
    <text x="79" y="1013">D</text>
  </g>
  <g font-size="23" font-weight="bold" text-anchor="middle">
    <text x="171.7" y="105.5">Tc_ctrl</text>
    <text x="397.7" y="105.5">Tc_stim</text>
    <text x="615" y="105.5">cMono_ctrl</text>
    <text x="840" y="105.5">cMono_stim</text>
    <text x="209" y="702.7">Tc_ctrl</text>
    <text x="413" y="702.7">Tc_stim</text>
    <text x="617" y="702.7">cMono_ctrl</text>
    <text x="821" y="702.7">cMono_stim</text>
    <text x="209" y="1015.3">Tc_ctrl</text>
    <text x="413" y="1015.3">Tc_stim</text>
    <text x="617" y="1015.3">cMono_ctrl</text>
    <text x="821" y="1015.3">cMono_stim</text>
  </g>

  <!-- gene callouts -->
  <g font-size="22.4">
    <text x="385" y="31">CCNA1</text>
    <text x="632" y="25.5">IL27</text>
    <text x="103" y="619.3">CCNA1</text>
    <text x="236" y="619.3">IL27</text>
  </g>
  <g stroke="#000" stroke-width="3.5" fill="none">
    <line x1="466.7" y1="37.7" x2="522.7" y2="132.5" marker-end="url(#head)"/>
    <line x1="632.7" y1="32" x2="611.7" y2="86"/>
    <line x1="602.3" y1="113" x2="593.8" y2="135.1" marker-end="url(#head)"/>
    <line x1="137.3" y1="596.7" x2="114.4" y2="472.6" marker-end="url(#head)"/>
    <line x1="258.3" y1="598.3" x2="177.2" y2="471.8" marker-end="url(#head)"/>
  </g>

  <!-- L2 -->
  <g fill="none" stroke="#ff00ff" stroke-width="2">
    <rect x="517.3" y="138.5" width="186" height="16.5"/>
    <path d="M703 138H880"/>
    <path d="M954 198V1103.3H938"/>
  </g>
  <path d="M874 125.5L907 137.3L874 150L880 137.5Z" fill="#ff00ff"/>
  <path d="M914.3 1103.3L940 1093.5L936 1103.3L940 1113Z" fill="#ff00ff"/>
  <g fill="#ff00ff">
    <text x="922" y="161.7" font-size="57">L</text>
    <text x="954.5" y="173" font-size="37">2</text>
  </g>

  <!-- L1 -->
  <g fill="none" stroke="#ff5000" stroke-width="2">
    <rect x="80" y="451.5" width="140.5" height="16.5"/>
    <path d="M35 480V782.7H52"/>
  </g>
  <path d="M72.7 782.7L47.3 773L51 782.7L47.3 793Z" fill="#ff5000"/>
  <g fill="#ff5000">
    <text x="16" y="466.7" font-size="57">L</text>
    <text x="48" y="478" font-size="37">1</text>
  </g>

  <g font-size="20.5">
    <text transform="translate(27.5 716) rotate(-90)">original</text>
    <text transform="translate(54 757) rotate(-90)">expression data</text>
    <text transform="translate(948 1047) rotate(-90)">original</text>
    <text transform="translate(973.5 1088) rotate(-90)">expression data</text>
  </g>

  <!-- panel B headers -->
  <g font-size="24">
    <text x="1131" y="215">before rotation</text>
    <text x="1131" y="688">after rotation</text>
  </g>
  <path d="M1118.3 219.3H1319.3M1118.3 693.7H1319.3" stroke="#000" stroke-width="3" fill="none"/>
  <g font-size="22">
    <text x="1009" y="239.3">k=2</text>
    <text x="1071" y="239.3">...</text>
    <text x="1374" y="241">10</text>
    <text x="1416" y="272.7">k=1</text>
    <text x="1432" y="621">9</text>
    <text x="1009" y="714">k=2</text>
    <text x="1071" y="714">...</text>
    <text x="1374" y="716">10</text>
    <text x="1416" y="747.3">k=1</text>
    <text x="1432" y="1096">9</text>
  </g>
  <g font-size="22" font-weight="bold">
    <text transform="translate(1433 320) rotate(-90)">...</text>
    <text transform="translate(1433 795) rotate(-90)">...</text>
  </g>
</svg>
</body>
</html>
